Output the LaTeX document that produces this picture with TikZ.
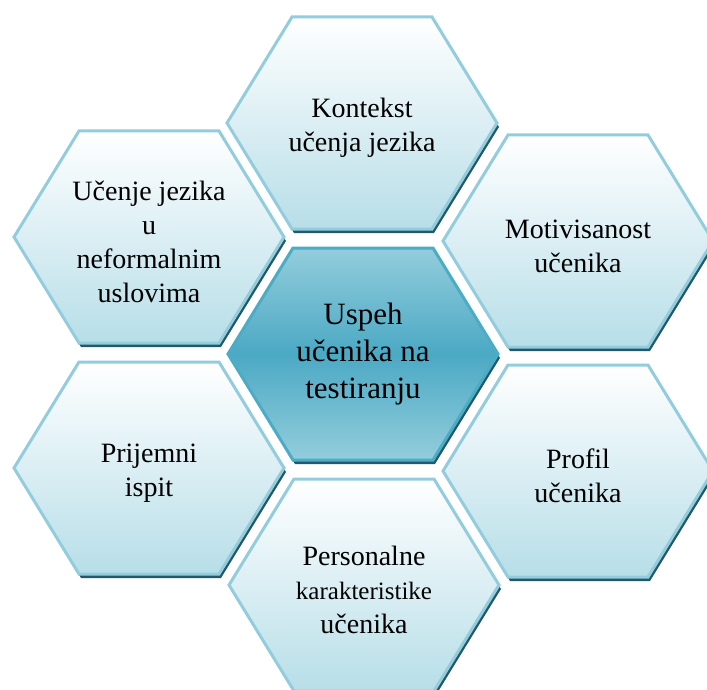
\documentclass[tikz,border=0pt]{standalone}
\usepackage{fontspec}
\setmainfont{Liberation Serif}
\usepackage{tikz}
\usetikzlibrary{positioning}

\definecolor{hexborder}{HTML}{93CDDD}
\definecolor{hexlow}{HTML}{B7DEE8}
\definecolor{hexshadow}{HTML}{215968}
\definecolor{coreborder}{HTML}{4BACC6}
\definecolor{coremid}{HTML}{4BA9C4}
\definecolor{corelight}{HTML}{93CDDC}

\newcommand{\hexoutline}{(-135,0) -- (-70,-106) -- (70,-106) -- (135,0) -- (70,106) -- (-70,106) -- cycle}
\newcommand{\hexcell}[2]{%
    \fill[hexshadow, shift={#2}, xshift=2pt, yshift=-4pt] \hexoutline;
    \path[#1, shift={#2}] \hexoutline;
}

\tikzset{
    outercell/.style={draw=hexborder, line width=3pt, top color=white, bottom color=hexlow},
    corecell/.style={draw=coreborder, line width=3pt, top color=corelight, bottom color=corelight, middle color=coremid},
    celltext/.style={align=center, text=black, font=\fontsize{28}{34}\selectfont, yshift=-5pt},
    coretext/.style={align=center, text=black, font=\fontsize{31}{37}\selectfont},
}

\begin{document}
\begin{tikzpicture}[x=1pt, y=-1pt]
        \useasboundingbox (0,0) rectangle (707,690);
        \fill[white] (0,0) rectangle (707,690);
        \clip (0,0) rectangle (707,690);

        \hexcell{outercell}{(362,123)}
        \hexcell{outercell}{(149,237)}
        \hexcell{outercell}{(578,241)}
        \hexcell{outercell}{(149,468)}
        \hexcell{outercell}{(578,471)}
        \hexcell{outercell}{(364,585)}
        \hexcell{corecell}{(363,354)}

        \node[coretext] (uspeh) at (363,354) {Uspeh\\učenika na\\testiranju};
        \node[celltext] (kontekst) at (362,123) {Kontekst\\učenja jezika};
        \node[celltext] (neformalno) at (149,237) {Učenje jezika\\u\\neformalnim\\uslovima};
        \node[celltext] (motivisanost) at (578,241) {Motivisanost\\učenika};
        \node[celltext] (prijemni) at (149,468) {Prijemni\\ispit};
        \node[celltext] (profil) at (578,471) {Profil\\učenika};
        \node[celltext] (personalne) at (364,585) {Personalne\\{\fontsize{25}{31}\selectfont karakteristike}\\učenika};
\end{tikzpicture}
\end{document}
